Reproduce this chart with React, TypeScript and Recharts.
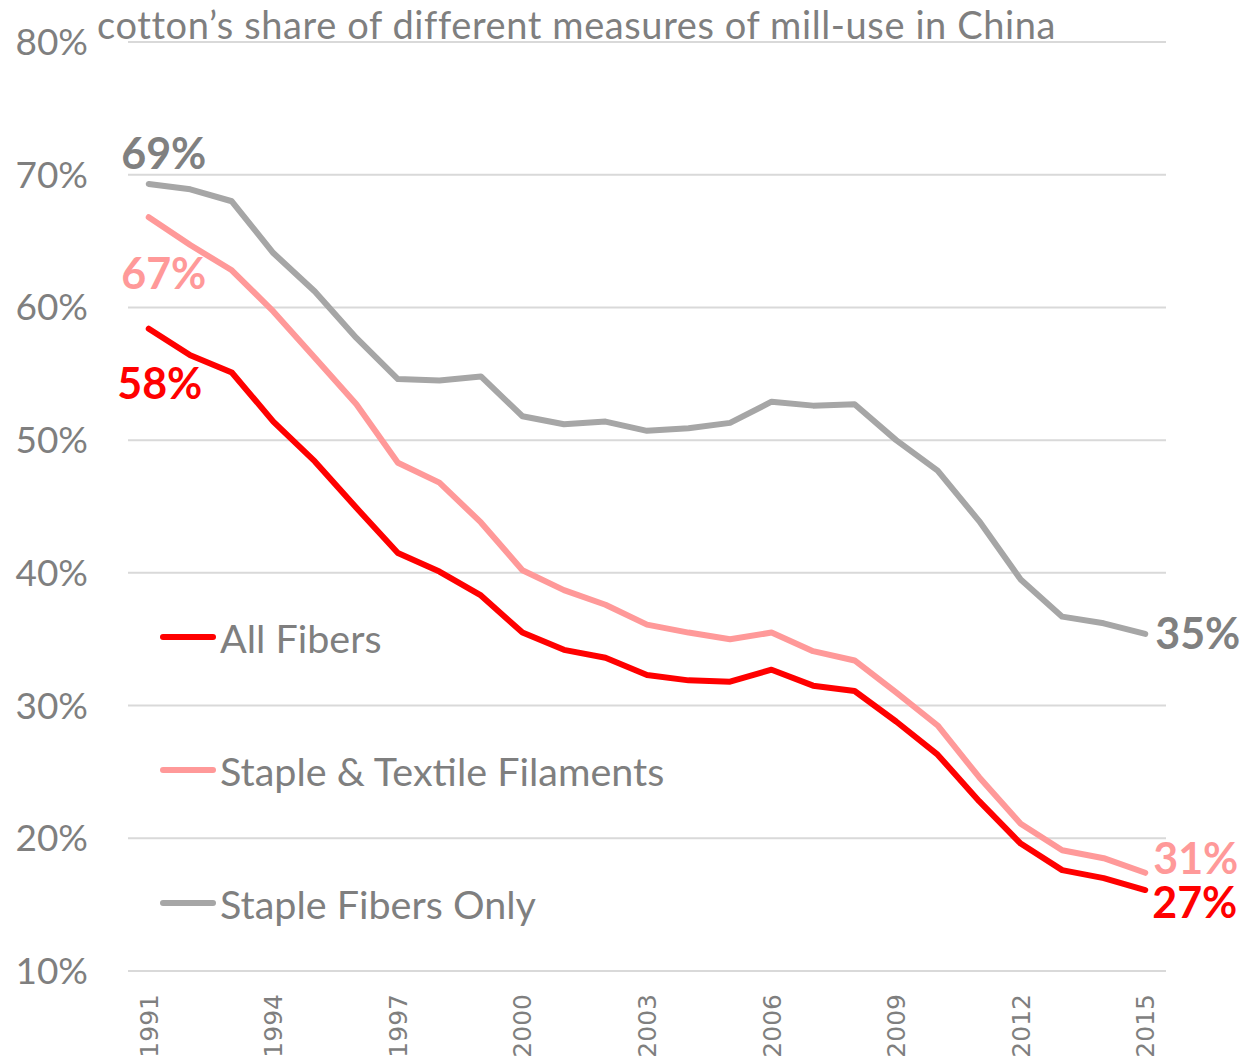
import { LineChart, Line, XAxis, YAxis, CartesianGrid, LabelList } from "recharts";

const years = [
  1991, 1992, 1993, 1994, 1995, 1996, 1997, 1998, 1999, 2000, 2001, 2002, 2003,
  2004, 2005, 2006, 2007, 2008, 2009, 2010, 2011, 2012, 2013, 2014, 2015,
];

const allFibers = [
  58.4, 56.4, 55.1, 51.4, 48.4, 44.9, 41.5, 40.1, 38.3, 35.5, 34.2, 33.6, 32.3,
  31.9, 31.8, 32.7, 31.5, 31.1, 28.8, 26.3, 22.8, 19.6, 17.6, 17.0, 16.1,
];

const stapleTextile = [
  66.8, 64.7, 62.8, 59.7, 56.2, 52.7, 48.3, 46.8, 43.8, 40.2, 38.7, 37.6, 36.1,
  35.5, 35.0, 35.5, 34.1, 33.4, 31.0, 28.5, 24.6, 21.1, 19.1, 18.5, 17.4,
];

const stapleOnly = [
  69.3, 68.9, 68.0, 64.1, 61.2, 57.7, 54.6, 54.5, 54.8, 51.8, 51.2, 51.4, 50.7,
  50.9, 51.3, 52.9, 52.6, 52.7, 50.0, 47.7, 43.9, 39.5, 36.7, 36.2, 35.4,
];

const yTicks = [10, 20, 30, 40, 50, 60, 70, 80];
const xTicks = [1991, 1994, 1997, 2000, 2003, 2006, 2009, 2012, 2015];

const seriesNames = ["All Fibers", "Staple & Textile Filaments", "Staple Fibers Only"];
const startLabels = ["58%", "67%", "69%"];
const endLabels = ["27%", "31%", "35%"];

const title = "cotton\u2019s share of different measures of mill-use in China";

const data = years.map((year, i) => ({
  year,
  all: allFibers[i],
  textile: stapleTextile[i],
  staple: stapleOnly[i],
}));

const AXIS_GREY = "#7f7f7f";
const FONT = "Lato, 'Open Sans', sans-serif";

const series = [
  { key: "staple", color: "#a6a6a6", text: "#808080", idx: 2, start: { dx: 15, dy: -15 }, end: { dx: 10, dy: 15 } },
  { key: "textile", color: "#ff9999", text: "#ff9999", idx: 1, start: { dx: 15, dy: 72 }, end: { dx: 8, dy: 1 } },
  { key: "all", color: "#ff0000", text: "#ff0000", idx: 0, start: { dx: 11, dy: 70 }, end: { dx: 7, dy: 28 } },
];

function makeLabel(s: (typeof series)[number]) {
  const last = years.length - 1;
  return (props: any) => {
    const { x, y, index } = props;
    if (index !== 0 && index !== last) return null;
    const isStart = index === 0;
    const off = isStart ? s.start : s.end;
    return (
      <text
        x={x + off.dx}
        y={y + off.dy}
        textAnchor={isStart ? "middle" : "start"}
        fill={s.text}
        fontSize={43}
        fontWeight={700}
        fontFamily={FONT}
      >
        {isStart ? startLabels[s.idx] : endLabels[s.idx]}
      </text>
    );
  };
}

const YTick = (props: any) => {
  const { y, payload } = props;
  return (
    <text x={88} y={y + 13} textAnchor="end" fill={AXIS_GREY} fontSize={37} fontFamily={FONT}>
      {payload.value}%
    </text>
  );
};

const XTick = (props: any) => {
  const { x, payload } = props;
  return (
    <text
      x={x}
      y={994}
      transform={`rotate(-90, ${x}, 994)`}
      textAnchor="end"
      dy={9}
      fill={AXIS_GREY}
      fontSize={25}
      fontFamily="'DejaVu Sans', sans-serif"
    >
      {payload.value}
    </text>
  );
};

export default function App() {
  const legendColors = ["#ff0000", "#ff9999", "#a6a6a6"];
  const legendY = [637, 770, 903];
  return (
    <div style={{ position: "absolute", left: 0, top: 0, width: 1244, height: 1060, background: "#fff" }}>
      <LineChart
        width={1244}
        height={1060}
        data={data}
        margin={{ top: 42, right: 78, bottom: 0, left: 0 }}
      >
        <CartesianGrid horizontal vertical={false} stroke="#d9d9d9" strokeWidth={2} />
        <XAxis
          dataKey="year"
          type="number"
          domain={[1990.5, 2015.5]}
          ticks={xTicks}
          axisLine={false}
          tickLine={false}
          tick={<XTick />}
          height={89}
          interval={0}
        />
        <YAxis
          type="number"
          domain={[10, 80]}
          ticks={yTicks}
          axisLine={false}
          tickLine={false}
          tick={<YTick />}
          width={128}
          interval={0}
        />
        {series.map((s) => (
          <Line
            key={s.key}
            dataKey={s.key}
            stroke={s.color}
            strokeWidth={6}
            strokeLinecap="round"
            strokeLinejoin="round"
            dot={false}
            isAnimationActive={false}
          >
            <LabelList dataKey={s.key} content={makeLabel(s)} />
          </Line>
        ))}
      </LineChart>
      <div
        style={{
          position: "absolute",
          left: 97,
          top: 1,
          fontFamily: FONT,
          fontSize: 38,
          letterSpacing: 0.6,
          color: AXIS_GREY,
          whiteSpace: "nowrap",
          lineHeight: "normal",
        }}
      >
        {title}
      </div>
      {seriesNames.map((name, i) => (
        <div
          key={name}
          style={{
            position: "absolute",
            left: 160,
            top: legendY[i] - 22,
            height: 44,
            display: "flex",
            alignItems: "center",
            fontFamily: FONT,
            fontSize: 39.5,
            color: AXIS_GREY,
            whiteSpace: "nowrap",
          }}
        >
          <span
            style={{
              display: "inline-block",
              width: 56,
              height: 6,
              borderRadius: 3,
              background: legendColors[i],
              marginRight: 4,
            }}
          />
          {name}
        </div>
      ))}
    </div>
  );
}
